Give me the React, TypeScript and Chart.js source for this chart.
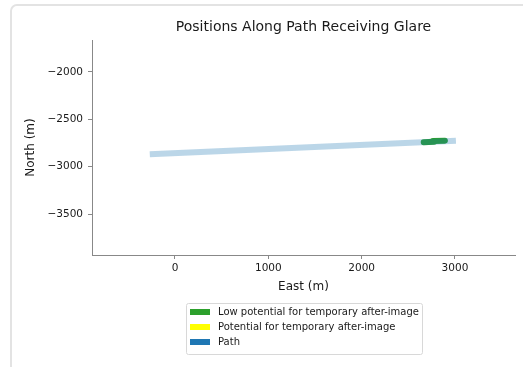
import React, { useEffect, useRef } from "react";
import { Chart, registerables } from "chart.js";

Chart.register(...registerables);

const pathEast = [-270, 3010];
const pathNorth = [-2870, -2725];
const glareEastA = [2665, 2775];
const glareNorthA = [-2742, -2738];
const glareEastB = [2765, 2892];
const glareNorthB = [-2729, -2725];
const xTicks = [0, 1000, 2000, 3000];
const yTicks = [-2000, -2500, -3000, -3500];
const legendLabels = [
  "Low potential for temporary after-image",
  "Potential for temporary after-image",
  "Path",
];
const legendColors = ["#2ca02c", "#ffff00", "#1f77b4"];
const titleText = "Positions Along Path Receiving Glare";
const xTitle = "East (m)";
const yTitle = "North (m)";

const FONT = "'DejaVu Sans', sans-serif";

const pts = (xs: number[], ys: number[]) => xs.map((x, i) => ({ x, y: ys[i] }));
const fmt = (v: number) => (v < 0 ? "\u2212" + Math.abs(v) : String(v));

const annotPlugin = {
  id: "annot",
  afterDraw(chart: any) {
    const { ctx, chartArea } = chart;
    const cx = (chartArea.left + chartArea.right) / 2;
    const cy = (chartArea.top + chartArea.bottom) / 2;
    ctx.save();
    ctx.fillStyle = "#1a1a1a";
    ctx.textAlign = "center";
    ctx.textBaseline = "middle";
    ctx.font = `14px ${FONT}`;
    ctx.fillText(titleText, cx, 27);
    ctx.font = `12px ${FONT}`;
    ctx.fillText(xTitle, cx, 287);
    ctx.save();
    ctx.translate(31, cy);
    ctx.rotate(-Math.PI / 2);
    ctx.fillText(yTitle, 0, 0);
    ctx.restore();
    // legend
    const lx = 186, ly = 303, lw = 236, lh = 51;
    ctx.fillStyle = "#fff";
    ctx.strokeStyle = "#d8d8d8";
    ctx.lineWidth = 1;
    ctx.beginPath();
    ctx.roundRect(lx + 0.5, ly + 0.5, lw, lh, 2);
    ctx.fill();
    ctx.stroke();
    ctx.font = `10px ${FONT}`;
    ctx.textAlign = "left";
    legendLabels.forEach((t, i) => {
      const y = 312 + i * 15;
      ctx.fillStyle = legendColors[i];
      ctx.fillRect(190, y - 3, 20, 6);
      ctx.fillStyle = "#1a1a1a";
      ctx.fillText(t, 218, y);
    });
    ctx.restore();
  },
};

export default function App() {
  const ref = useRef<HTMLCanvasElement | null>(null);
  useEffect(() => {
    if (!ref.current) return;
    const chart = new Chart(ref.current, {
      type: "scatter",
      data: {
        datasets: [
          {
            label: legendLabels[2],
            data: pts(pathEast, pathNorth),
            showLine: true,
            borderColor: "rgba(31,119,180,0.3)",
            borderWidth: 6,
            borderCapStyle: "butt",
            pointRadius: 0,
          },
          {
            label: legendLabels[0],
            data: pts(glareEastA, glareNorthA),
            showLine: true,
            borderColor: "#2ca02c",
            borderWidth: 6,
            borderCapStyle: "round",
            pointRadius: 0,
          },
          {
            label: legendLabels[0] + " ",
            data: pts(glareEastB, glareNorthB),
            showLine: true,
            borderColor: "#2ca02c",
            borderWidth: 6,
            borderCapStyle: "round",
            pointRadius: 0,
          },
        ],
      },
      options: {
        animation: false,
        responsive: false,
        layout: { padding: { top: 40, right: 8, left: 0, bottom: 0 } },
        plugins: { legend: { display: false }, title: { display: false }, tooltip: { enabled: false } },
        scales: {
          x: {
            type: "linear",
            min: -889,
            max: 3643,
            afterFit: (s: any) => { s.height = 112; },
            afterBuildTicks: (s: any) => { s.ticks = xTicks.map((v) => ({ value: v })); },
            grid: { display: true, drawOnChartArea: false, drawTicks: true, tickLength: 4, color: "#888", tickWidth: 1 },
            border: { display: true, color: "#888", width: 1 },
            ticks: { color: "#1a1a1a", font: { family: FONT, size: 10.5 }, padding: 3, callback: (v: any) => fmt(Number(v)), maxRotation: 0, autoSkip: false },
          },
          y: {
            type: "linear",
            min: -3933,
            max: -1662,
            afterFit: (s: any) => { s.width = 92; },
            afterBuildTicks: (s: any) => { s.ticks = yTicks.map((v) => ({ value: v })); },
            grid: { display: true, drawOnChartArea: false, drawTicks: true, tickLength: 4, color: "#888", tickWidth: 1 },
            border: { display: true, color: "#888", width: 1 },
            ticks: { color: "#1a1a1a", font: { family: FONT, size: 10.5 }, padding: 5, callback: (v: any) => fmt(Number(v)), autoSkip: false },
          },
        },
      },
      plugins: [annotPlugin],
    } as any);
    return () => chart.destroy();
  }, []);
  return (
    <div style={{ position: "fixed", left: 0, top: 0, width: 523, height: 367, overflow: "hidden", background: "#fff" }}>
      <div
        style={{
          position: "absolute",
          left: 10,
          top: 4,
          width: 700,
          height: 500,
          border: "2px solid #e3e3e3",
          borderRadius: 7,
          boxSizing: "border-box",
        }}
      />
      <canvas ref={ref} width={523} height={367} style={{ position: "absolute", left: 0, top: 0, width: 523, height: 367 }} />
    </div>
  );
}
